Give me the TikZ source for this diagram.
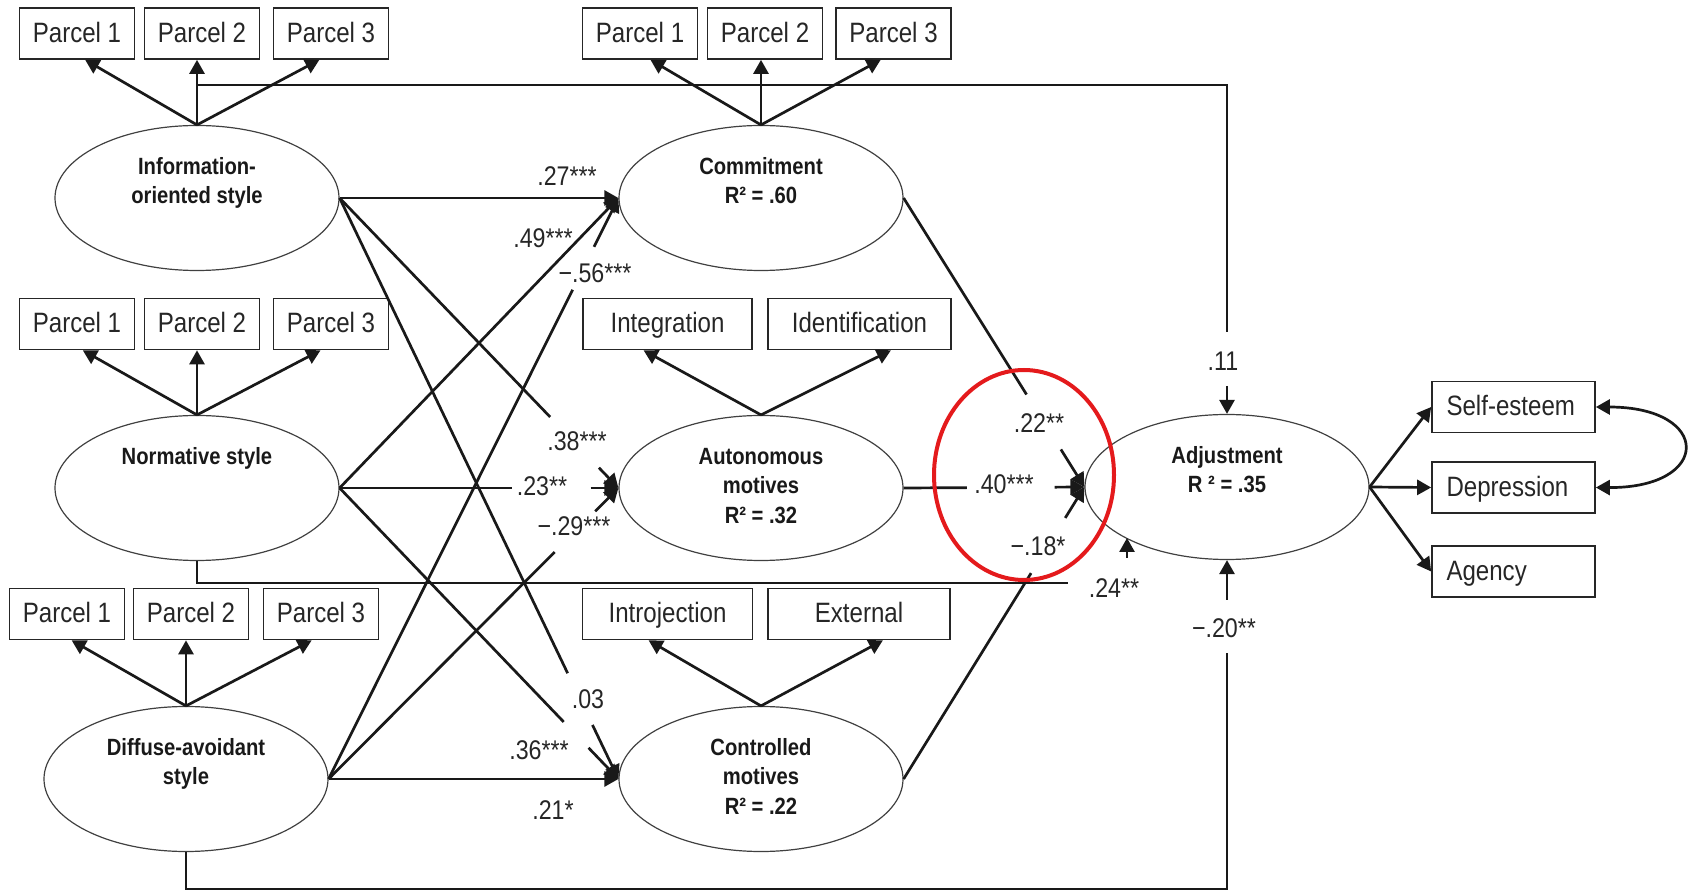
\documentclass[tikz,border=0pt]{standalone}
\usepackage{fontspec}
\setmainfont{Liberation Sans}[FakeStretch=0.86]
\usetikzlibrary{arrows.meta,calc,shapes.geometric}
\definecolor{ring}{RGB}{228,26,28}
\begin{document}
\begin{tikzpicture}[x=0.5pt,y=-0.5pt,
  latent/.style={ellipse, draw=black!75, line width=0.6pt, minimum width=142pt,
    minimum height=72.5pt, inner sep=0pt, align=center, text=black!90,
    font=\fontsize{11.75pt}{14.75pt}\selectfont\bfseries},
  obs/.style={rectangle, draw=black!85, line width=0.85pt, minimum height=25.5pt,
    inner sep=0pt, text height=10pt, text depth=1pt, text=black!85,
    font=\fontsize{14pt}{16pt}\selectfont},
  parcel/.style={obs, minimum width=57.5pt},
  outcome/.style={obs, text width=67pt, inner xsep=7.25pt, align=left},
  conn/.style={line width=1.35pt, draw=black!90},
  arrowed/.style={-{Triangle[length=7pt,width=7.5pt]}},
  coef/.style={inner sep=0pt, text=black!85, font=\fontsize{13.5pt}{15pt}\selectfont},
]
\useasboundingbox (0,0) rectangle (1692,892);

% ---------- latent constructs ----------
\node[latent] (info) at (197,198) {\strut Information-\\\strut oriented style\\\strut};
\node[latent] (norm) at (197,488) {\strut Normative style\\\strut\\\strut};
\node[latent] (diff) at (186,779) {\strut Diffuse-avoidant\\\strut style\\\strut};
\node[latent] (com)  at (761,198) {\strut Commitment\\\strut R² = .60\\\strut};
\node[latent] (aut)  at (761,488) {\strut Autonomous\\\strut motives\\\strut R² = .32};
\node[latent] (con)  at (761,779) {\strut Controlled\\\strut motives\\\strut R² = .22};
\node[latent] (adj)  at (1227,487) {\strut Adjustment\\\strut R ² = .35\\\strut};

% ---------- indicators ----------
\node[parcel] (ip1) at (77,33.5)  {Parcel 1};
\node[parcel] (ip2) at (202,33.5) {Parcel 2};
\node[parcel] (ip3) at (331,33.5) {Parcel 3};
\node[parcel] (cp1) at (640,33.5) {Parcel 1};
\node[parcel] (cp2) at (765,33.5) {Parcel 2};
\node[parcel] (cp3) at (893.5,33.5) {Parcel 3};
\node[parcel] (np1) at (77,324)  {Parcel 1};
\node[parcel] (np2) at (202,324) {Parcel 2};
\node[parcel] (np3) at (331,324) {Parcel 3};
\node[obs, minimum width=84.5pt] (integ) at (667.5,324) {Integration};
\node[obs, minimum width=91.5pt] (ident) at (859.5,324) {Identification};
\node[parcel] (dp1) at (67,614)  {Parcel 1};
\node[parcel] (dp2) at (191,614) {Parcel 2};
\node[parcel] (dp3) at (321,614) {Parcel 3};
\node[obs, minimum width=85pt] (intro) at (667.5,614) {Introjection};
\node[obs, minimum width=91pt] (extern) at (859,614) {External};
\node[outcome] (se)  at (1513.5,407)   {\mbox{Self-esteem}};
\node[outcome] (dep) at (1513.5,487.5) {Depression};
\node[outcome] (ag)  at (1513.5,571.5) {Agency};

% ---------- measurement fans ----------
\draw[conn,arrowed] (info.north) -- ($(ip1.south west)!0.57!(ip1.south east)$);
\draw[conn,arrowed] (info.north) -- (info.north |- ip2.south);
\draw[conn,arrowed] (info.north) -- ($(ip3.south west)!0.40!(ip3.south east)$);
\draw[conn,arrowed] (com.north) -- ($(cp1.south west)!0.59!(cp1.south east)$);
\draw[conn,arrowed] (com.north) -- (com.north |- cp2.south);
\draw[conn,arrowed] (com.north) -- ($(cp3.south west)!0.39!(cp3.south east)$);
\draw[conn,arrowed] (norm.north) -- ($(np1.south west)!0.55!(np1.south east)$);
\draw[conn,arrowed] (norm.north) -- (norm.north |- np2.south);
\draw[conn,arrowed] (norm.north) -- ($(np3.south west)!0.41!(np3.south east)$);
\draw[conn,arrowed] (aut.north) -- ($(integ.south west)!0.36!(integ.south east)$);
\draw[conn,arrowed] (aut.north) -- ($(ident.south west)!0.67!(ident.south east)$);
\draw[conn,arrowed] (diff.north) -- ($(dp1.south west)!0.54!(dp1.south east)$);
\draw[conn,arrowed] (diff.north) -- (diff.north |- dp2.south);
\draw[conn,arrowed] (diff.north) -- ($(dp3.south west)!0.42!(dp3.south east)$);
\draw[conn,arrowed] (con.north) -- ($(intro.south west)!0.39!(intro.south east)$);
\draw[conn,arrowed] (con.north) -- ($(extern.south west)!0.63!(extern.south east)$);

% ---------- outcomes of adjustment ----------
\draw[conn,arrowed] (adj.east) -- (se.west);
\draw[conn,arrowed] (adj.east) -- (dep.west);
\draw[conn,arrowed] (adj.east) -- (ag.west);
\draw[conn,{Triangle[length=7pt,width=7.5pt]}-{Triangle[length=7pt,width=7.5pt]}]
  (se.east) .. controls (1712,407) and (1712,488) .. (dep.east);

% ---------- styles -> motives ----------
\draw[conn,arrowed] (info.east) -- (com.west);
\node[coef] (c27) at (567,176) {.27***};
\draw[conn,arrowed] (norm.east) -- (com.west);
\node[coef] (c49) at (543,238) {.49***};
\draw[conn] (diff.east) -- ($(diff.east)!0.842!(com.west)$);
\draw[conn,arrowed] ($(diff.east)!0.916!(com.west)$) -- (com.west);
\node[coef] (c56) at (595,273) {−.56***};

\draw[conn] (info.east) -- ($(info.east)!0.755!(aut.west)$);
\draw[conn,arrowed] ($(info.east)!0.93!(aut.west)$) -- (aut.west);
\node[coef] (c38) at (577,441) {.38***};
\draw[conn] (norm.east) -- ($(norm.east)!0.62!(aut.west)$);
\draw[conn,arrowed] ($(norm.east)!0.90!(aut.west)$) -- (aut.west);
\node[coef] (c23) at (542,486) {.23**};
\draw[conn] (diff.east) -- ($(diff.east)!0.78!(aut.west)$);
\draw[conn,arrowed] ($(diff.east)!0.92!(aut.west)$) -- (aut.west);
\node[coef] (c29) at (574,526) {−.29***};

\draw[conn] (info.east) -- ($(info.east)!0.818!(con.west)$);
\draw[conn,arrowed] ($(info.east)!0.907!(con.west)$) -- (con.west);
\node[coef] (c03) at (588,699) {.03};
\draw[conn] (norm.east) -- ($(norm.east)!0.804!(con.west)$);
\draw[conn,arrowed] ($(norm.east)!0.893!(con.west)$) -- (con.west);
\node[coef] (c36) at (539,750) {.36***};
\draw[conn,arrowed] (diff.east) -- (con.west);
\node[coef] (c21) at (553,810) {.21*};

% ---------- motives -> adjustment ----------
\draw[conn] (com.east) -- ($(com.east)!0.68!(adj.west)$);
\draw[conn,arrowed] ($(com.east)!0.87!(adj.west)$) -- (adj.west);
\node[coef] (c22) at (1039,423) {.22**};
\draw[conn] (aut.east) -- ($(aut.east)!0.35!(adj.west)$);
\draw[conn,arrowed] ($(aut.east)!0.835!(adj.west)$) -- (adj.west);
\node[coef] (c40) at (1004,484) {.40***};
\draw[conn] (con.east) -- ($(con.east)!0.705!(adj.west)$);
\draw[conn,arrowed] ($(con.east)!0.894!(adj.west)$) -- (adj.west);
\node[coef] (c18) at (1038,546) {−.18*};

% ---------- direct paths from the styles ----------
\coordinate (yTop) at (0,85);
\coordinate (y11a) at (0,332);
\coordinate (y11b) at (0,386);
\draw[conn] (info.north |- yTop) -- (adj.north |- yTop) -- (adj.north |- y11a);
\draw[conn,arrowed] (adj.north |- y11b) -- (adj.north);
\node[coef] (c11) at (1223,361) {.11};

\coordinate (e24) at (1068,583);
\coordinate (a24) at ($(adj.center)+(-100,51)$);
\draw[conn] (norm.south) |- (e24);
\draw[conn,arrowed] ($(a24)+(0,20)$) -- (a24);
\node[coef] (c24) at (1114,588) {.24**};

\coordinate (yBot) at (0,889);
\coordinate (y20a) at (0,653);
\coordinate (y20b) at (0,600);
\draw[conn] (diff.south) -- (diff.south |- yBot) -- (adj.south |- yBot) -- (adj.south |- y20a);
\draw[conn,arrowed] (adj.south |- y20b) -- (adj.south);
\node[coef] (c20) at (1224,628) {−.20**};

% ---------- highlight ring ----------
\node[ellipse, draw=ring, line width=2pt, minimum width=90pt, minimum height=105pt,
  inner sep=0pt] (focus) at (1024,475) {};
\end{tikzpicture}
\end{document}
